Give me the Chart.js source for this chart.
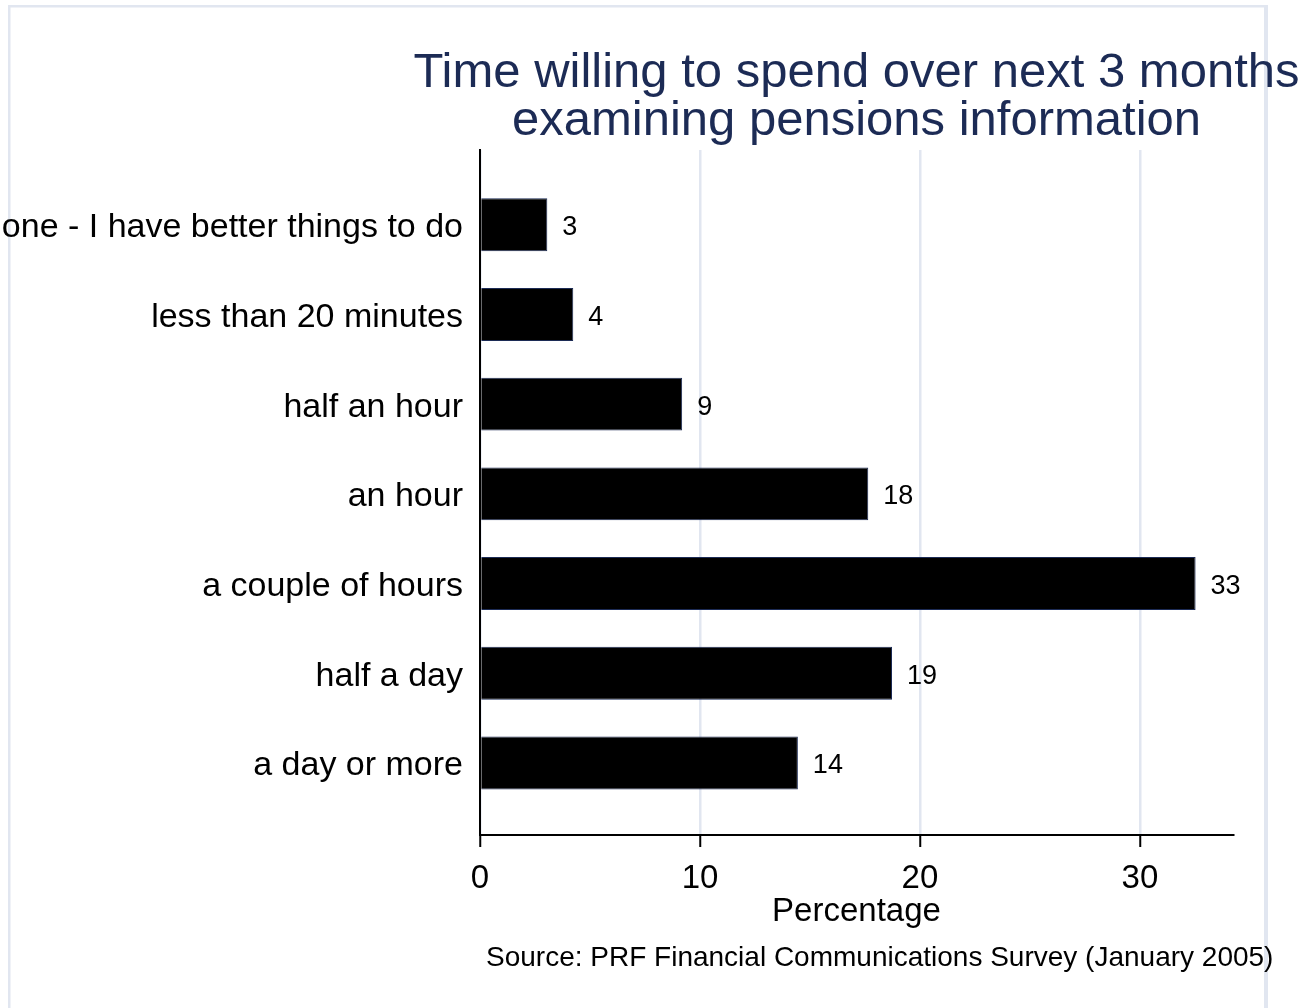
<!DOCTYPE html>
<html>
<head>
<meta charset="utf-8">
<title>Time willing to spend examining pensions information</title>
<script src="https://cdn.jsdelivr.net/npm/chart.js@4.4.1/dist/chart.umd.min.js"></script>
<style>
  html, body { margin: 0; padding: 0; background: #fff; }
  #wrap { position: relative; width: 1310px; height: 1008px; }
</style>
</head>
<body>
<div id="wrap"><canvas id="timeChart" width="1310" height="1008"></canvas></div>
<script>
const categories = [
  'None - I have better things to do',
  'less than 20 minutes',
  'half an hour',
  'an hour',
  'a couple of hours',
  'half a day',
  'a day or more'
];
const percentages = [3.06, 4.24, 9.19, 17.65, 32.53, 18.73, 14.45];
const xTicks = [0, 10, 20, 30];
const titleLines = ['Time willing to spend over next 3 months', 'examining pensions information'];
const xTitle = 'Percentage';
const sourceNote = 'Source: PRF Financial Communications Survey (January 2005)';

const FONT = '"Liberation Sans", Arial, Helvetica, sans-serif';
const NAVY = '#1c2b55';
const FRAME = '#e1e6f0';

// white page + the light graph-region frame (left, top, right edges)
const framePlugin = {
  id: 'frame',
  beforeDraw(chart) {
    const { ctx, width, height } = chart;
    ctx.save();
    ctx.fillStyle = '#fff';
    ctx.fillRect(0, 0, width, height);
    ctx.fillStyle = FRAME;
    ctx.fillRect(8, 5, 2.5, height - 5);
    ctx.fillRect(8, 5, 1260, 2.5);
    ctx.fillRect(1264, 5, 4, height - 5);
    ctx.restore();
  }
};

// value labels to the right of each bar
const valueLabels = {
  id: 'valueLabels',
  afterDatasetsDraw(chart) {
    const { ctx } = chart;
    ctx.save();
    ctx.font = `27px ${FONT}`;
    ctx.fillStyle = '#000';
    ctx.textAlign = 'left';
    ctx.textBaseline = 'middle';
    chart.getDatasetMeta(0).data.forEach((bar, i) => {
      ctx.fillText(String(Math.round(percentages[i])), bar.x + 15, bar.y + 3);
    });
    ctx.restore();
  }
};

// two-line title centred over the plot region, plus the source note
const titleAndNote = {
  id: 'titleAndNote',
  afterDraw(chart) {
    const { ctx, chartArea } = chart;
    const cx = (chartArea.left + chartArea.right) / 2;
    ctx.save();
    ctx.font = `49px ${FONT}`;
    ctx.fillStyle = NAVY;
    ctx.textAlign = 'center';
    ctx.textBaseline = 'alphabetic';
    titleLines.forEach((line, i) => ctx.fillText(line, cx, 87 + i * 48));
    ctx.font = `28px ${FONT}`;
    ctx.fillStyle = '#000';
    ctx.textAlign = 'left';
    ctx.fillText(sourceNote, chartArea.left + 6, 966);
    ctx.restore();
  }
};

new Chart(document.getElementById('timeChart'), {
  type: 'bar',
  data: {
    datasets: [{
      data: percentages.map((v, i) => ({ x: v, y: i })),
      backgroundColor: '#000',
      borderColor: NAVY,
      borderWidth: 1,
      barPercentage: 0.59,
      categoryPercentage: 1
    }]
  },
  options: {
    indexAxis: 'y',
    responsive: false,
    animation: false,
    layout: { padding: { top: 150, right: 77, bottom: 0, left: 0 } },
    plugins: {
      legend: { display: false },
      tooltip: { enabled: false }
    },
    scales: {
      x: {
        type: 'linear',
        min: 0,
        max: 34.23,
        afterBuildTicks: s => { s.ticks = xTicks.map(v => ({ value: v })); },
        afterFit: s => { s.height = 173; },
        ticks: { color: '#000', font: { family: FONT, size: 33 }, padding: 12, maxRotation: 0 },
        grid: { color: FRAME, lineWidth: 2.5, tickColor: '#000', tickWidth: 2, tickLength: 12 },
        border: { display: true, color: '#000', width: 2 },
        title: {
          display: true,
          text: xTitle,
          color: '#000',
          font: { family: FONT, size: 33 },
          padding: { top: 0, bottom: 76 }
        }
      },
      y: {
        type: 'linear',
        reverse: true,
        offset: false,
        min: -0.833,
        max: 6.803,
        afterBuildTicks: s => { s.ticks = categories.map((_, i) => ({ value: i })); },
        afterFit: s => { s.width = 480; },
        ticks: {
          color: '#000',
          font: { family: FONT, size: 34 },
          padding: 17,
          labelOffset: 3,
          callback: v => categories[v]
        },
        grid: { display: false, drawTicks: false, offset: false },
        border: { display: true, color: '#000', width: 2 }
      }
    }
  },
  plugins: [framePlugin, valueLabels, titleAndNote]
});
</script>
</body>
</html>
